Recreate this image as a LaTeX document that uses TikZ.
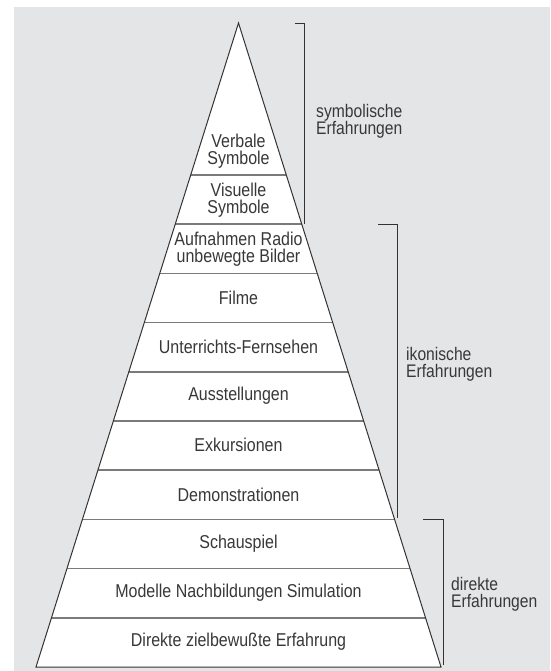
\documentclass[tikz,border=0pt]{standalone}
\usepackage{fontspec}
\setmainfont{Liberation Sans}
\newfontfamily\condsans[FakeStretch=0.86]{Liberation Sans}
\definecolor{panelgray}{HTML}{E4E5E7}
\definecolor{inkdark}{HTML}{333333}
\definecolor{rulegray}{HTML}{7A7A7A}
\definecolor{textgray}{HTML}{383838}
\tikzset{
  layertext/.style={text=textgray, align=center, inner sep=0pt,
    font=\condsans\fontsize{18.6}{17.2}\selectfont},
  grouptext/.style={text=textgray, align=left, anchor=west, inner sep=0pt,
    font=\condsans\fontsize{18.2}{17.2}\selectfont},
  outline/.style={draw=inkdark, line width=1pt, line join=miter},
  divider/.style={draw=rulegray, line width=1.6pt},
  bracket/.style={draw=inkdark, line width=1pt}
}
\begin{document}
\begin{tikzpicture}[x=1pt,y=-1pt]
\useasboundingbox (0,0) rectangle (550,671);
% background panel
\fill[panelgray] (14,7) rectangle (550,671);

% cone of experience
\coordinate (apex) at (238.5,23);
\coordinate (baseL) at (36,667);
\coordinate (baseR) at (441,667);
\fill[white] (apex) -- (baseL) -- (baseR) -- cycle;

% layer boundaries
\foreach \k in {1,...,10} {
  \pgfmathsetmacro{\yy}{667-49.2*\k}
  \pgfmathsetmacro{\hw}{(\yy-23)/644*202.6}
  \draw[divider] ({238.5-\hw},\yy) -- ({238.5+\hw},\yy);
}
\draw[outline] (apex) -- (baseL) -- (baseR) -- cycle;

% layer labels
\node[layertext] (verbal)   at (238.5,151) {Verbale\\Symbole};
\node[layertext] (visual)   at (238.5,200) {Visuelle\\Symbole};
\node[layertext] (records)  at (238.5,249) {Aufnahmen Radio\\unbewegte Bilder};
\node[layertext] (films)    at (238.5,298) {Filme};
\node[layertext] (tv)       at (238.5,347) {Unterrichts-Fernsehen};
\node[layertext] (exhibits) at (238.5,396) {Ausstellungen};
\node[layertext] (trips)    at (238.5,445) {Exkursionen};
\node[layertext] (demos)    at (238.5,495) {Demonstrationen};
\node[layertext] (drama)    at (238.5,544) {Schauspiel};
\node[layertext] (models)   at (238.5,593) {Modelle Nachbildungen Simulation};
\node[layertext] (direct)   at (238.5,642) {Direkte zielbewußte Erfahrung};

% group brackets
\coordinate (symA) at (295,24);  \coordinate (symB) at (304,24);  \coordinate (symC) at (304,224);
\coordinate (ikoA) at (378,224); \coordinate (ikoB) at (397,224); \coordinate (ikoC) at (397,518);
\coordinate (dirA) at (423,519); \coordinate (dirB) at (443,519); \coordinate (dirC) at (443,665);
\draw[bracket] (symA) -- (symB) -- (symC);
\draw[bracket] (ikoA) -- (ikoB) -- (ikoC);
\draw[bracket] (dirA) -- (dirB) -- (dirC);

\node[grouptext] (symlabel) at (316,121) {symbolische\\Erfahrungen};
\node[grouptext] (ikolabel) at (406,364) {ikonische\\Erfahrungen};
\node[grouptext] (dirlabel) at (451,594) {direkte\\Erfahrungen};
\end{tikzpicture}
\end{document}
